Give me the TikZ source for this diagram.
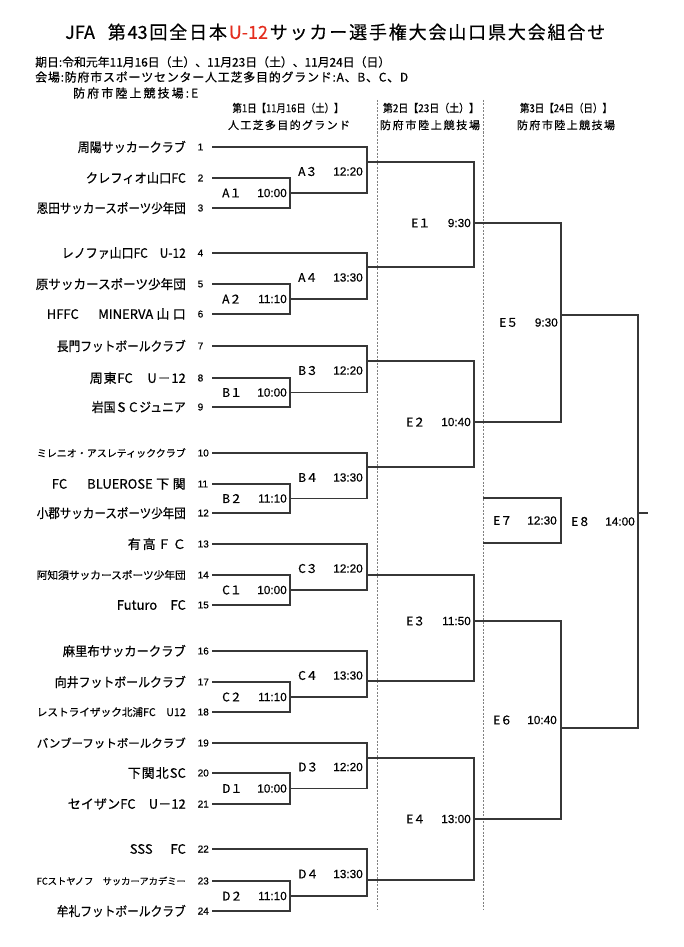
\documentclass[tikz,border=0pt]{standalone}
\usepackage{fontspec}
\usepackage{graphicx}
\setmainfont{Noto Sans CJK JP}[FakeBold=0.5]
\newfontfamily\lat{Liberation Sans}[FakeBold=0.3]
\definecolor{ured}{RGB}{228,45,30}
\definecolor{lc}{RGB}{55,55,55}
\newlength\natw
\def\trkstop{\trkstop}
\def\trkstopm{\trkstop}
\def\trkloop#1{\def\trktmp{#1}\ifx\trktmp\trkstopm\else#1\hfil\expandafter\trkloop\fi}
\newcommand\fitto[2]{\settowidth\natw{#2}\ifdim\natw>#1\relax\resizebox{#1}{!}{#2}\else\makebox[#1][s]{\trkloop#2\trkstop\unskip}\fi}
\newcommand\fitx[2]{\settowidth\natw{#2}\ifdim\natw>#1\relax\resizebox{#1}{\height}{#2}\else\makebox[#1][s]{\trkloop#2\trkstop\unskip}\fi}
\tikzset{
  br/.style={draw=lc, line width=1.1pt},
  dsh/.style={draw=black!50, line width=0.6pt, dash pattern=on 2pt off 1.5pt},
  team/.style={anchor=east, inner sep=0pt, font=\fontsize{13}{15}\selectfont},
  num/.style={anchor=west, inner sep=0pt, font=\lat\fontsize{10}{12}\selectfont},
  code/.style={anchor=west, inner sep=0pt, font=\fontsize{12}{14}\selectfont},
  time/.style={anchor=east, inner sep=0pt, font=\lat\fontsize{11.8}{14}\selectfont},
  hdr/.style={anchor=west, inner sep=0pt, font=\fontsize{12}{14}\selectfont},
  colh/.style={anchor=center, inner sep=0pt, font=\fontsize{11}{13}\selectfont}
}
\begin{document}
\begin{tikzpicture}[x=1pt,y=-1pt]
\fill[white] (0,0) rectangle (683,947);
\useasboundingbox (0,0) rectangle (683,947);

% ---------- header ----------
\node[anchor=west, inner sep=0pt, font=\fontsize{18}{21}\selectfont] (title) at (65,32)
  {\makebox[540pt][s]{\trkloop {JFA\hspace{11pt}}第{43}回全日本\trkstop\color{ured}\trkloop {U-12}\trkstop\color{black}\trkloop サッカー選手権大会山口県大会組合せ\trkstop\unskip}};
\node[hdr] (h1) at (35,62) {\fitto{355pt}{期日:令和元年{11}月{16}日（土）、{11}月{23}日（土）、{11}月{24}日（日）}};
\node[hdr] (h2) at (35,77) {\fitto{373pt}{会場:防府市スポーツセンター人工芝多目的グランド:A、B、C、D}};
\node[hdr] (h3) at (73,93) {\fitto{125pt}{防府市陸上競技場:E}};

\node[colh] (c1a) at (288,108) {\fitx{111pt}{第1日【{11}月{16}日（土）】}};
\node[colh] (c1b) at (289,125) {\fitx{122pt}{人工芝多目的グランド}};
\node[colh] (c2a) at (431,108) {\fitx{96pt}{第2日【{23}日（土）】}};
\node[colh] (c2b) at (430,125) {\fitx{100pt}{防府市陸上競技場}};
\node[colh] (c3a) at (566,108) {\fitx{92pt}{第3日【{24}日（日）】}};
\node[colh] (c3b) at (566,125) {\fitx{98pt}{防府市陸上競技場}};

% dashed separators
\coordinate (dl1) at (377,100); \coordinate (dl2) at (377,910);
\coordinate (dr1) at (483,100); \coordinate (dr2) at (483,910);
\draw[dsh] (dl1) -- (dl2);
\draw[dsh] (dr1) -- (dr2);

% ---------- teams ----------
\node[team] (n1) at (186,147) {\fitx{108pt}{周陽サッカークラブ}};
\node[team] (n2) at (186,178) {\fitx{100pt}{クレフィオ山口{FC}}};
\node[team] (n3) at (186,208) {\fitx{149pt}{恩田サッカースポーツ少年団}};
\node[team] (n4) at (186,253) {\fitx{124pt}{レノファ山口{FC}　{U-12}}};
\node[team] (n5) at (186,284) {\fitx{150pt}{原サッカースポーツ少年団}};
\node[team] (n6) at (186,314) {\fitx{139pt}{{HFFC}　{MINERVA}山口}};
\node[team] (n7) at (186,346) {\fitx{129pt}{長門フットボールクラブ}};
\node[team] (n8) at (186,378) {\fitx{96pt}{周東{FC}　U－{12}}};
\node[team] (n9) at (186,407) {\fitx{94pt}{岩国ＳＣジュニア}};
\node[team] (n10) at (186,453) {\fitto{149pt}{ミレニオ・アスレティッククラブ}};
\node[team] (n11) at (186,484) {\fitx{134pt}{{FC}　{BLUEROSE}下関}};
\node[team] (n12) at (186,513) {\fitx{149pt}{小郡サッカースポーツ少年団}};
\node[team] (n13) at (186,544) {\fitx{58pt}{有高ＦＣ}};
\node[team] (n14) at (186,575) {\fitto{149pt}{阿知須サッカースポーツ少年団}};
\node[team] (n15) at (186,605) {\fitx{69pt}{{Futuro}　{FC}}};
\node[team] (n16) at (186,651) {\fitx{123pt}{麻里布サッカークラブ}};
\node[team] (n17) at (186,682) {\fitx{131pt}{向井フットボールクラブ}};
\node[team] (n18) at (186,712) {\fitto{149pt}{レストライザック北浦{FC}　{U12}}};
\node[team] (n19) at (186,743) {\fitto{149pt}{バンブーフットボールクラブ}};
\node[team] (n20) at (186,773) {\fitx{58pt}{下関北{SC}}};
\node[team] (n21) at (186,804) {\fitx{118pt}{セイザン{FC}　U－{12}}};
\node[team] (n22) at (186,849) {\fitx{56pt}{{SSS}　{FC}}};
\node[team] (n23) at (186,881) {\fitto{149pt}{{FC}ストヤノフ　サッカーアカデミー}};
\node[team] (n24) at (186,911) {\fitx{129pt}{牟礼フットボールクラブ}};

\foreach \i/\y in {1/147,2/178,3/208,4/253,5/284,6/314,7/346,8/378,9/407,10/453,11/484,12/513,13/544,14/575,15/605,16/651,17/682,18/712,19/743,20/773,21/804,22/849,23/881,24/911}{
  \node[num] (k\i) at (197.5,\y) {\i};
  \coordinate (t\i) at (212,\y);
}

% ---------- bracket coordinates ----------
\coordinate (a1) at (290,193);   \coordinate (a2) at (290,299);
\coordinate (b1) at (290,392.5); \coordinate (b2) at (290,498.5);
\coordinate (c1) at (290,590);   \coordinate (c2) at (290,697);
\coordinate (d1) at (290,788.5); \coordinate (d2) at (290,896);
\coordinate (a3) at (367,162);   \coordinate (a4) at (367,267);
\coordinate (b3) at (367,361);   \coordinate (b4) at (367,467);
\coordinate (c3) at (367,575);   \coordinate (c4) at (367,681);
\coordinate (d3) at (367,758);   \coordinate (d4) at (367,880);
\coordinate (e1) at (474,223);   \coordinate (e2) at (474,422);
\coordinate (e3) at (474,621);   \coordinate (e4) at (474,819);
\coordinate (e5) at (561,315);   \coordinate (e6) at (561,728);
\coordinate (e8) at (638,513);   \coordinate (fin) at (648,513);
\coordinate (e7a) at (483,498);  \coordinate (e7) at (561,520.5);
\coordinate (e7b) at (483,543);

% first round
\draw[br] (t2) -| (a1) |- (t3);
\draw[br] (t5) -| (a2) |- (t6);
\draw[br] (t8) -| (b1) |- (t9);
\draw[br] (t11) -| (b2) |- (t12);
\draw[br] (t14) -| (c1) |- (t15);
\draw[br] (t17) -| (c2) |- (t18);
\draw[br] (t20) -| (d1) |- (t21);
\draw[br] (t23) -| (d2) |- (t24);
% second round
\draw[br] (t1) -| (a3) |- (a1);
\draw[br] (t4) -| (a4) |- (a2);
\draw[br] (t7) -| (b3) |- (b1);
\draw[br] (t10) -| (b4) |- (b2);
\draw[br] (t13) -| (c3) |- (c1);
\draw[br] (t16) -| (c4) |- (c2);
\draw[br] (t19) -| (d3) |- (d1);
\draw[br] (t22) -| (d4) |- (d2);
% E round
\draw[br] (a3) -| (e1) |- (a4);
\draw[br] (b3) -| (e2) |- (b4);
\draw[br] (c3) -| (e3) |- (c4);
\draw[br] (d3) -| (e4) |- (d4);
\draw[br] (e1) -| (e5) |- (e2);
\draw[br] (e3) -| (e6) |- (e4);
\draw[br] (e5) -| (e8) |- (e6);
\draw[br] (e8) -- (fin);
\draw[br] (e7a) -| (e7) |- (e7b);

% ---------- match labels ----------
\node[code] (la1) at (222,193) {A１};   \node[time] (ta1) at (287,193) {10:00};
\node[code] (la2) at (222,299) {A２};   \node[time] (ta2) at (287,299) {11:10};
\node[code] (lb1) at (222,392.5) {B１}; \node[time] (tb1) at (287,392.5) {10:00};
\node[code] (lb2) at (222,498.5) {B２}; \node[time] (tb2) at (287,498.5) {11:10};
\node[code] (lc1) at (222,590) {C１};   \node[time] (tc1) at (287,590) {10:00};
\node[code] (lc2) at (222,697) {C２};   \node[time] (tc2) at (287,697) {11:10};
\node[code] (ld1) at (222,788.5) {D１}; \node[time] (td1) at (287,788.5) {10:00};
\node[code] (ld2) at (222,896) {D２};   \node[time] (td2) at (287,896) {11:10};

\node[code] (la3) at (298,171.5) {A３}; \node[time] (ta3) at (363,171.5) {12:20};
\node[code] (la4) at (298,277.5) {A４}; \node[time] (ta4) at (363,277.5) {13:30};
\node[code] (lb3) at (298,370.5) {B３}; \node[time] (tb3) at (363,370.5) {12:20};
\node[code] (lb4) at (298,477.5) {B４}; \node[time] (tb4) at (363,477.5) {13:30};
\node[code] (lc3) at (298,568.5) {C３}; \node[time] (tc3) at (363,568.5) {12:20};
\node[code] (lc4) at (298,675.5) {C４}; \node[time] (tc4) at (363,675.5) {13:30};
\node[code] (ld3) at (298,767) {D３};   \node[time] (td3) at (363,767) {12:20};
\node[code] (ld4) at (298,874) {D４};   \node[time] (td4) at (363,874) {13:30};

\node[code] (le1) at (411,223) {E１}; \node[time] (te1) at (471,223) {9:30};
\node[code] (le2) at (406,422) {E２}; \node[time] (te2) at (471,422) {10:40};
\node[code] (le3) at (406,621) {E３}; \node[time] (te3) at (471,621) {11:50};
\node[code] (le4) at (406,819) {E４}; \node[time] (te4) at (471,819) {13:00};
\node[code] (le5) at (499,322.5) {E５}; \node[time] (te5) at (558,322.5) {9:30};
\node[code] (le6) at (493,720) {E６};   \node[time] (te6) at (557,720) {10:40};
\node[code] (le7) at (493,520.5) {E７}; \node[time] (te7) at (557,520.5) {12:30};
\node[code] (le8) at (571,521.5) {E８}; \node[time] (te8) at (635,521.5) {14:00};
\end{tikzpicture}
\end{document}
